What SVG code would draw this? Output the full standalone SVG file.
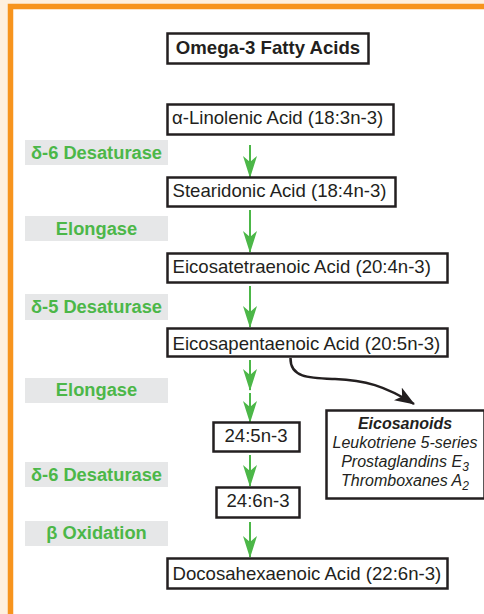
<svg xmlns="http://www.w3.org/2000/svg" width="484" height="614" viewBox="0 0 484 614">
<style>
.box{fill:#fff;stroke:#231f20;stroke-width:2.5}
.lab{fill:#e6e7e8}
.t{font-family:"Liberation Sans",Arial,sans-serif;font-size:18.6px;fill:#231f20}
.g{font-family:"Liberation Sans",Arial,sans-serif;font-size:18.3px;font-weight:bold;fill:#4cb748;text-anchor:middle}
.e{font-family:"Liberation Sans",Arial,sans-serif;font-size:16px;font-style:italic;fill:#231f20;text-anchor:middle}
.ga{stroke:#4cb748;stroke-width:2;fill:none;marker-end:url(#gh)}
</style>
<defs>
<marker id="gh" viewBox="0 0 22 14" refX="21" refY="7" markerWidth="22" markerHeight="14" markerUnits="userSpaceOnUse" orient="auto">
<path d="M0,0 L22,7 L0,14 L6,7 Z" fill="#4cb748"/>
</marker>
<marker id="bh" viewBox="0 0 20 15" refX="19" refY="7.5" markerWidth="20" markerHeight="15" markerUnits="userSpaceOnUse" orient="auto">
<path d="M0,0 L20,7.5 L0,15 L5,7.5 Z" fill="#231f20"/>
</marker>
</defs>
<rect x="0" y="0" width="484" height="614" fill="#fef0df"/>
<rect x="10.5" y="6.5" width="500" height="640" fill="#fff" stroke="#f7941d" stroke-width="5.5"/>

<g id="labels">
<rect class="lab" x="25" y="140" width="143" height="25"/>
<text class="g" x="96.5" y="158.5">δ-6 Desaturase</text>
<rect class="lab" x="25" y="216" width="143" height="25"/>
<text class="g" x="96.5" y="234.5">Elongase</text>
<rect class="lab" x="25" y="294" width="143" height="26"/>
<text class="g" x="96.5" y="313">δ-5 Desaturase</text>
<rect class="lab" x="25" y="378" width="143" height="25"/>
<text class="g" x="96.5" y="396">Elongase</text>
<rect class="lab" x="25" y="462" width="143" height="25"/>
<text class="g" x="96.5" y="480.5">δ-6 Desaturase</text>
<rect class="lab" x="25" y="521" width="143" height="25"/>
<text class="g" x="96.5" y="539">β Oxidation</text>
</g>

<g id="connectors">
<line class="ga" x1="250" y1="145" x2="250" y2="177"/>
<line class="ga" x1="250" y1="210" x2="250" y2="252"/>
<line class="ga" x1="250" y1="286" x2="250" y2="327"/>
<line class="ga" x1="250" y1="360" x2="250" y2="390"/>
<line class="ga" x1="250" y1="393" x2="250" y2="422"/>
<line class="ga" x1="250" y1="455" x2="250" y2="486"/>
<line class="ga" x1="250" y1="522" x2="250" y2="557"/>
<path d="M290.5,358 C290,378 310,378 335,379 C365,380 385,386 414,404" fill="none" stroke="#231f20" stroke-width="2.5" marker-end="url(#bh)"/>
</g>

<g id="title">
<rect class="box" x="167.5" y="33.5" width="201" height="30"/>
<text class="t" x="268" y="53.5" font-weight="bold" text-anchor="middle">Omega-3 Fatty Acids</text>
</g>
<g id="ala">
<rect class="box" x="167.5" y="104.5" width="226" height="30"/>
<text class="t" x="172" y="123.5">α-Linolenic Acid (18:3n-3)</text>
</g>
<g id="sda">
<rect class="box" x="167.5" y="177.5" width="228" height="29"/>
<text class="t" x="172.5" y="197">Stearidonic Acid (18:4n-3)</text>
</g>
<g id="eta">
<rect class="box" x="167.5" y="253.5" width="280" height="29"/>
<text class="t" x="172.5" y="273">Eicosatetraenoic Acid (20:4n-3)</text>
</g>
<g id="epa">
<rect class="box" x="167.5" y="328.5" width="280" height="28"/>
<text class="t" x="172.5" y="349.5">Eicosapentaenoic Acid (20:5n-3)</text>
</g>
<g id="n245">
<rect class="box" x="213.5" y="422.5" width="86" height="29"/>
<text class="t" x="256" y="442" text-anchor="middle">24:5n-3</text>
</g>
<g id="n246">
<rect class="box" x="216.5" y="487.5" width="83" height="30"/>
<text class="t" x="258" y="507" text-anchor="middle">24:6n-3</text>
</g>
<g id="dha">
<rect class="box" x="167.5" y="558.5" width="280" height="30"/>
<text class="t" x="172.5" y="579.5">Docosahexaenoic Acid (22:6n-3)</text>
</g>
<g id="eicosanoids">
<rect class="box" x="326.5" y="410.5" width="158" height="88"/>
<text class="e" x="405" y="429" font-weight="bold">Eicosanoids</text>
<text class="e" x="405" y="448">Leukotriene 5-series</text>
<text class="e" x="405" y="467">Prostaglandins E<tspan font-size="12" dy="4">3</tspan></text>
<text class="e" x="405" y="486">Thromboxanes A<tspan font-size="12" dy="4">2</tspan></text>
</g>
</svg>
